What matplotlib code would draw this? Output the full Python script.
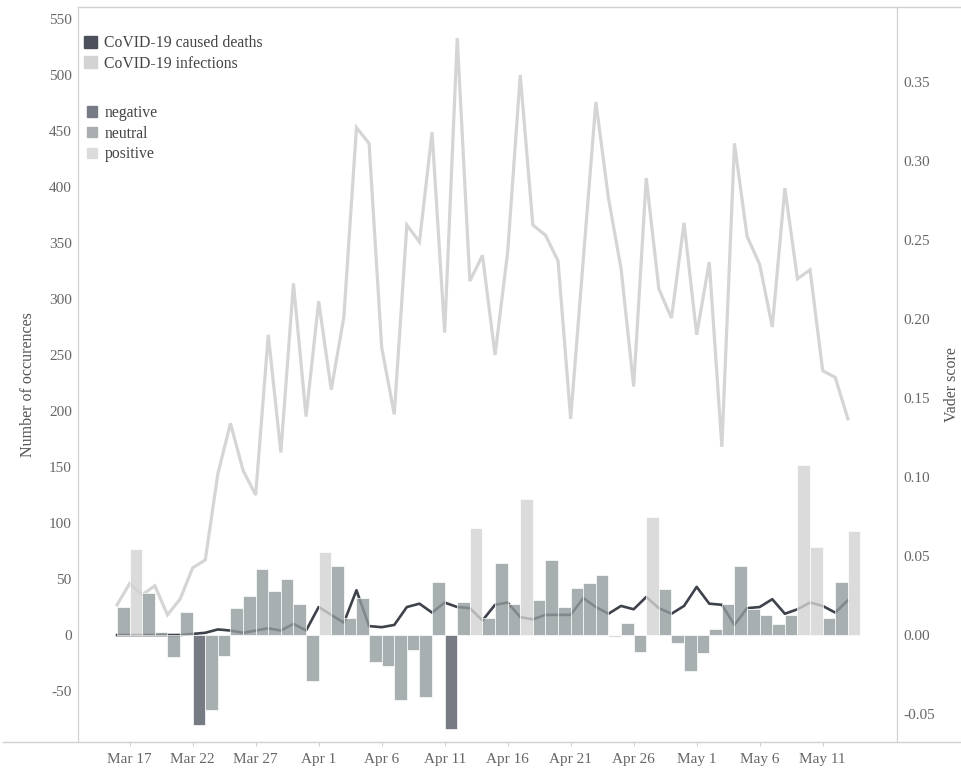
import matplotlib
matplotlib.use("Agg")
import matplotlib.pyplot as plt
import numpy as np
import pandas as pd
from matplotlib.lines import Line2D
from matplotlib.patches import Patch

plt.rcParams["font.family"] = ["Liberation Serif", "DejaVu Serif"]

# daily data, Mar 16 .. May 13
start_date = "2020-03-16"
infections = [27, 46, 36, 44, 18, 32, 60, 67, 144, 189, 147, 125, 268, 163, 314,
              195, 298, 219, 284, 453, 439, 257, 197, 366, 351, 449, 270, 533,
              316, 339, 250, 342, 500, 366, 357, 334, 193, 335, 476, 390, 327,
              222, 408, 309, 283, 368, 268, 333, 168, 439, 356, 331, 275, 399,
              318, 326, 236, 230, 193]
deaths = [0, 0, 0, 0, 0, 0, 1, 2, 5, 4, 2, 4, 6, 4, 10, 4, 25, 18, 11, 40, 8, 7,
          9, 25, 28, 20, 29, 25, 24, 13, 27, 29, 16, 14, 18, 18, 18, 33, 25, 19,
          26, 23, 34, 24, 19, 26, 43, 28, 27, 9, 24, 25, 32, 19, 23, 29, 26, 20, 31]
vader = [0.0175, 0.0544, 0.0264, 0.0019, -0.0141, 0.0146, -0.0570, -0.0477,
         -0.0135, 0.0169, 0.0249, 0.0420, 0.0276, 0.0352, 0.0194, -0.0291,
         0.0527, 0.0437, 0.0106, 0.0232, -0.0173, -0.0196, -0.0411, -0.0095,
         -0.0394, 0.0338, -0.0595, 0.0207, 0.0679, 0.0106, 0.0458, 0.0196,
         0.0861, 0.0222, 0.0475, 0.0175, 0.0296, 0.0327, 0.0378, -0.0015,
         0.0078, -0.0106, 0.0749, 0.0289, -0.0049, -0.0226, -0.0116, 0.0040,
         0.0196, 0.0437, 0.0165, 0.0127, 0.0070, 0.0127, 0.1076, 0.0559,
         0.0106, 0.0333, 0.0658]
sentiment = ["neutral", "positive", "neutral", "neutral", "neutral", "neutral",
             "negative", "neutral", "neutral", "neutral", "neutral", "neutral",
             "neutral", "neutral", "neutral", "neutral", "positive", "neutral",
             "neutral", "neutral", "neutral", "neutral", "neutral", "neutral",
             "neutral", "neutral", "negative", "neutral", "positive", "neutral",
             "neutral", "neutral", "positive", "neutral", "neutral", "neutral",
             "neutral", "neutral", "neutral", "positive", "neutral", "neutral",
             "positive", "neutral", "neutral", "neutral", "neutral", "neutral",
             "neutral", "neutral", "neutral", "neutral", "neutral", "neutral",
             "positive", "positive", "neutral", "neutral", "positive"]
tick_labels = ["Mar 17", "Mar 22", "Mar 27", "Apr 1", "Apr 6", "Apr 11",
               "Apr 16", "Apr 21", "Apr 26", "May 1", "May 6", "May 11"]
left_ticks = [-50, 0, 50, 100, 150, 200, 250, 300, 350, 400, 450, 500, 550]
right_ticks = [-0.05, 0.0, 0.05, 0.10, 0.15, 0.20, 0.25, 0.30, 0.35]

dates = pd.date_range(start_date, periods=len(infections), freq="D")
tick_dates = pd.to_datetime([t + " 2020" for t in tick_labels], format="%b %d %Y")

# bar colours (drawn with alpha over the lines)
bar_colors = {"negative": "#545a66", "neutral": "#939b9c", "positive": "#d3d3d3"}
legend_colors = {"negative": "#767b85", "neutral": "#a9afb0", "positive": "#dcdcdc"}
c_deaths = "#3d424b"
c_inf = "#d5d5d5"
txt = "#666666"

fig = plt.figure(figsize=(9.62, 7.69), dpi=100)
ax = fig.add_axes([78 / 962, 1 - 742 / 769, (897 - 78) / 962, (742 - 7) / 769])
ax2 = ax.twinx()

ax.plot(dates, infections, color=c_inf, lw=2.3, solid_joinstyle="miter")
ax.plot(dates, deaths, color=c_deaths, lw=1.9)

ax2.bar(dates, vader, width=1.0, align="edge",
        color=[bar_colors[s] for s in sentiment], alpha=0.8,
        edgecolor="white", linewidth=0.6)

d0 = dates[0]
ax.set_xlim(d0 - pd.Timedelta(days=3.1), d0 + pd.Timedelta(days=61.9))
ax.set_ylim(-95.5, 560.7)
ax2.set_ylim(-0.0677, 0.3975)

ax.set_yticks(left_ticks)
ax.set_yticklabels([str(v) for v in left_ticks])
ax2.set_yticks(right_ticks)
ax2.set_yticklabels(["%.2f" % v for v in right_ticks])
ax.set_xticks(tick_dates)
ax.set_xticklabels(tick_labels)

ax.tick_params(axis="y", length=0, pad=4.5, labelsize=11, labelcolor=txt)
ax2.tick_params(axis="y", length=0, pad=4.5, labelsize=11, labelcolor=txt)
ax.tick_params(axis="x", length=3, width=0.8, color="#d0d0d0", pad=5,
               labelsize=11, labelcolor=txt)

for a in (ax, ax2):
    for s in ("top", "bottom"):
        a.spines[s].set_visible(False)
    a.spines["left"].set_color("#d0d0d0")
    a.spines["right"].set_color("#d0d0d0")

ax.set_ylabel("Number of occurences", fontsize=11.5, color="#555555")
ax.yaxis.set_label_coords(36 / 962, 0.5, transform=fig.transFigure)
ax2.set_ylabel("Vader score", fontsize=11.5, color="#555555")
ax2.yaxis.set_label_coords(944 / 962, 0.5, transform=fig.transFigure)

# frame lines running to the figure edge
fig.add_artist(Line2D([78 / 962, 1], [1 - 7 / 769] * 2, color="#d0d0d0", lw=1))
fig.add_artist(Line2D([3 / 962, 1], [1 - 742 / 769] * 2, color="#d0d0d0", lw=1))

h1 = [Patch(color="#4b505b", label="CoVID-19 caused deaths"),
      Patch(color="#d3d3d3", label="CoVID-19 infections")]
leg1 = ax2.legend(handles=h1, loc="upper left", bbox_to_anchor=(84 / 962, 1 - 35 / 769),
                  bbox_transform=fig.transFigure, frameon=False, fontsize=11.3,
                  handlelength=0.8, handleheight=0.8, handletextpad=0.5,
                  labelspacing=0.3, borderpad=0, borderaxespad=0,
                  labelcolor="#444444")
ax2.add_artist(leg1)
h2 = [Patch(color=legend_colors[k], label=k) for k in ("negative", "neutral", "positive")]
ax2.legend(handles=h2, loc="upper left", bbox_to_anchor=(87 / 962, 1 - 105 / 769),
           bbox_transform=fig.transFigure, frameon=False, fontsize=11.3,
           handlelength=0.65, handleheight=0.65, handletextpad=0.5,
           labelspacing=0.3, borderpad=0, borderaxespad=0,
           labelcolor="#444444")

fig.savefig("out.png", dpi=100)
